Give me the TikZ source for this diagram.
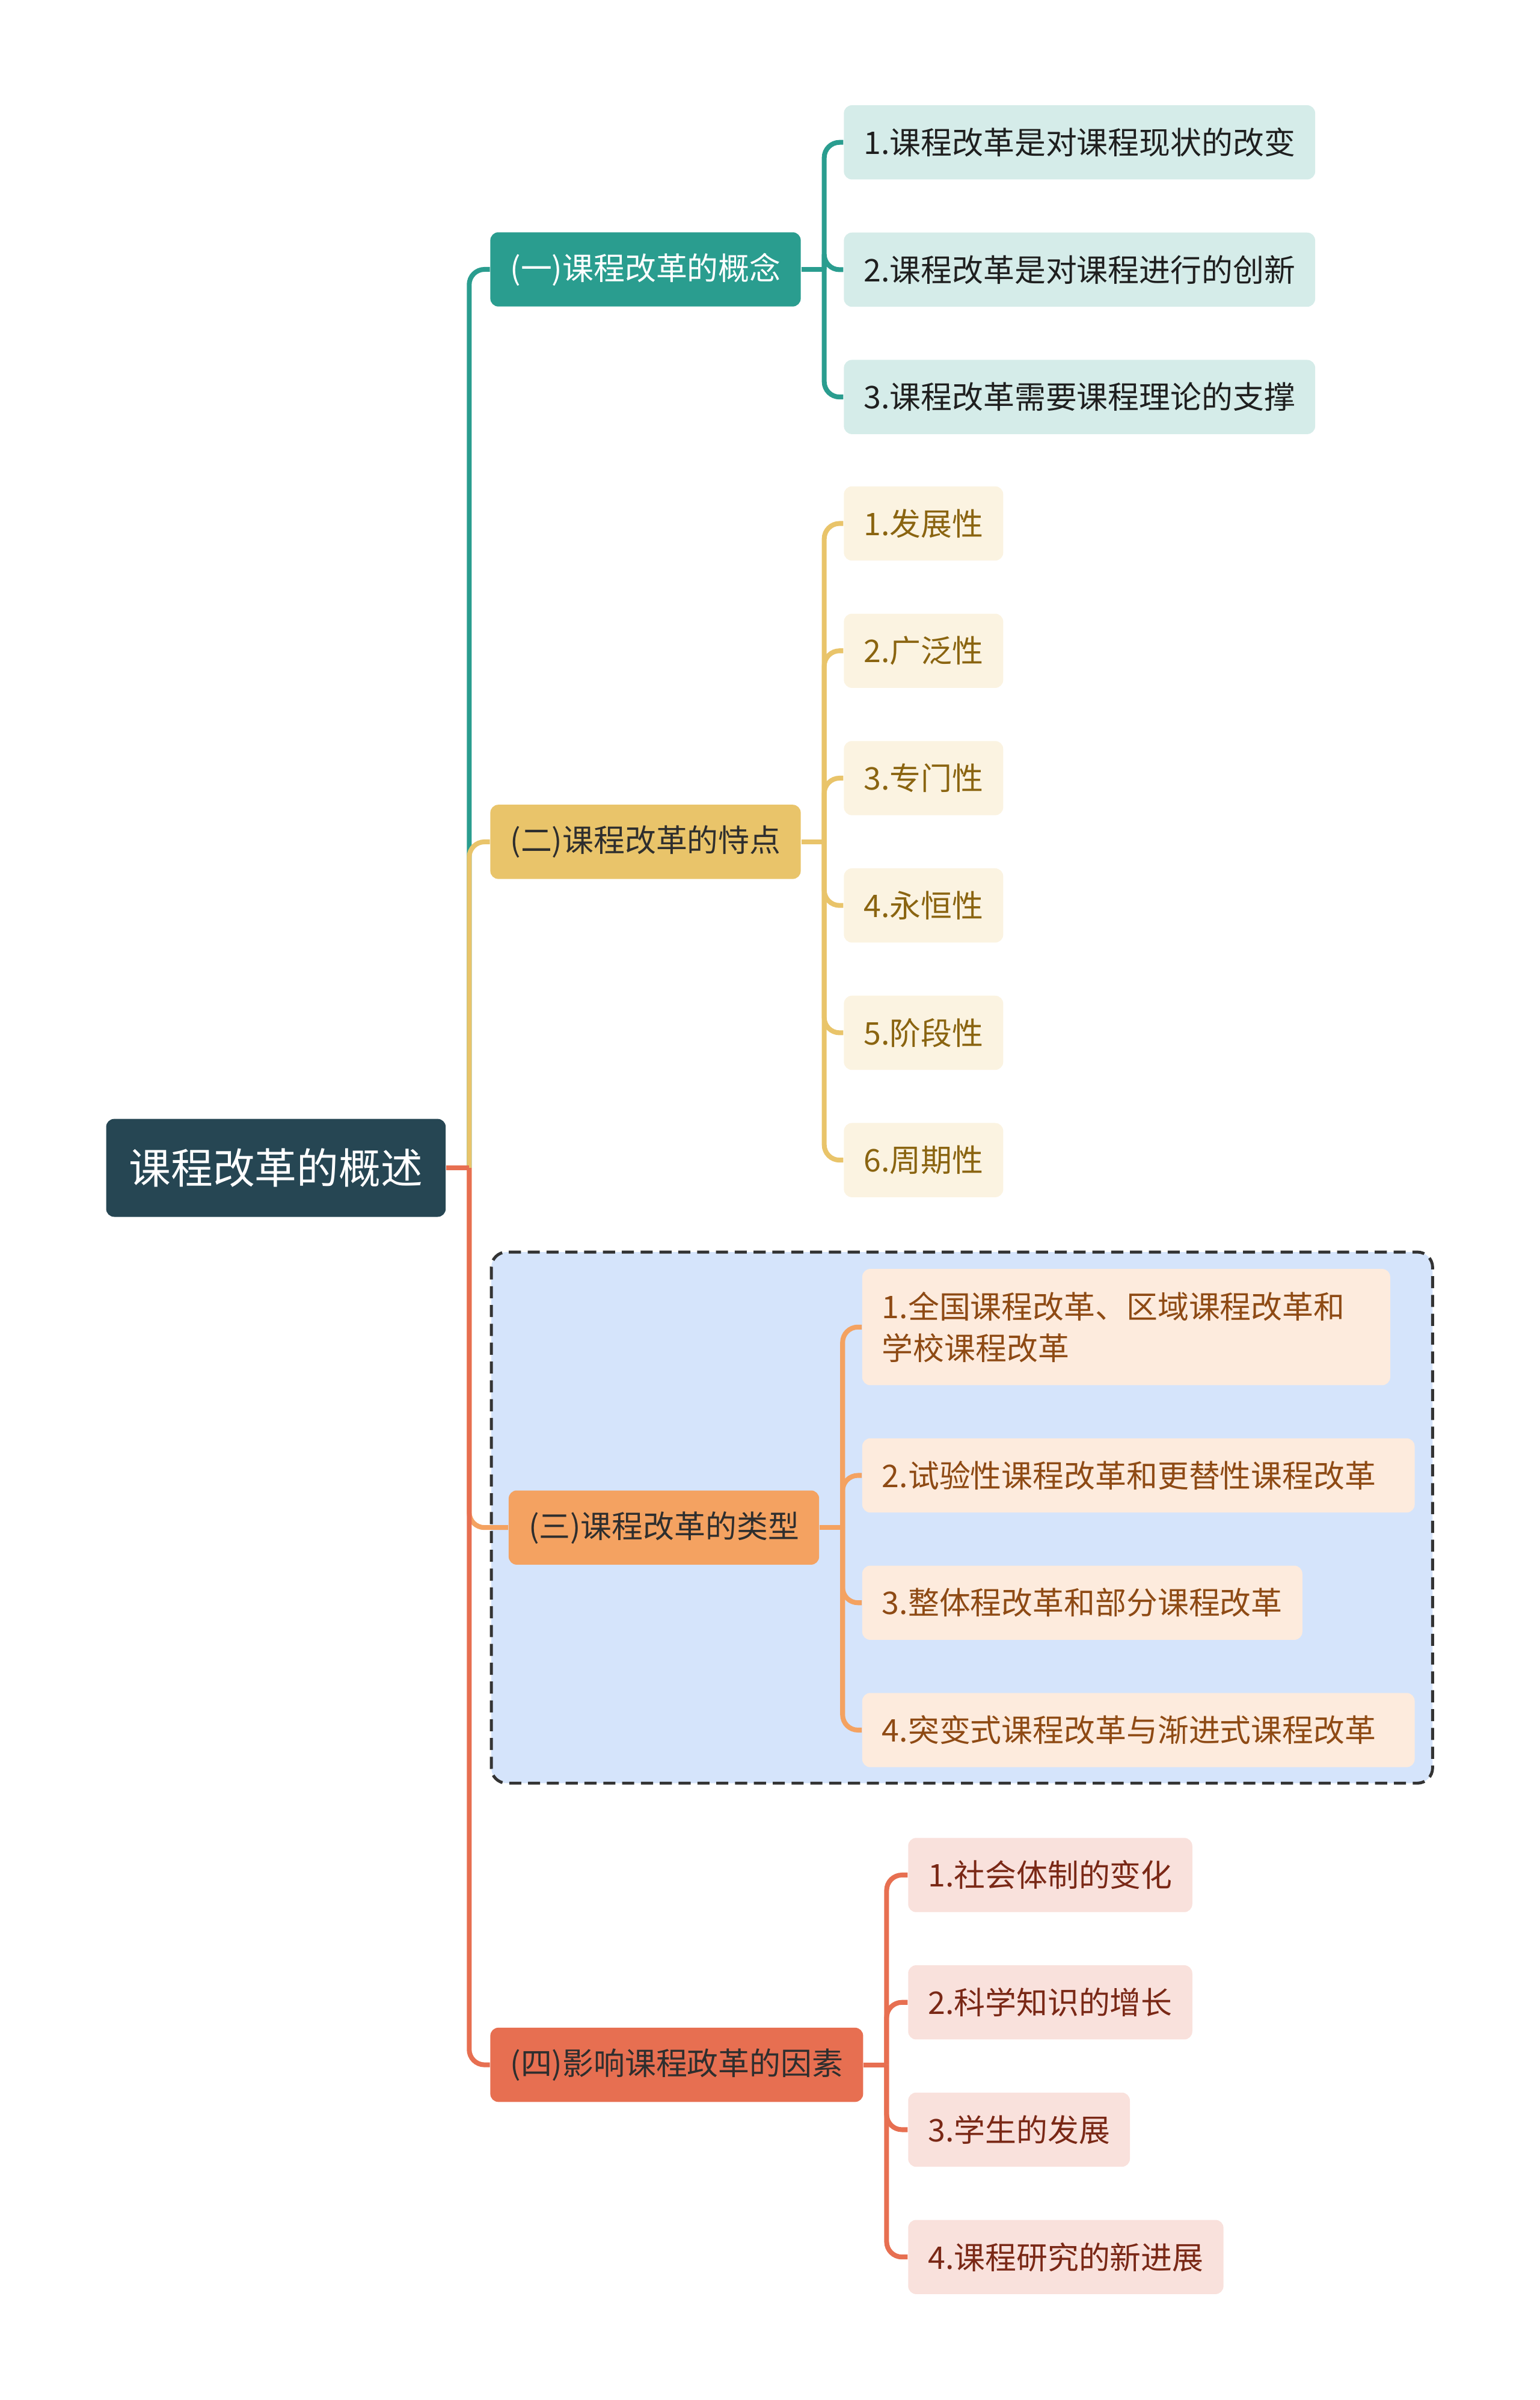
\documentclass[tikz,border=0pt]{standalone}
\usepackage{fontspec}
\setmainfont{Noto Sans CJK SC}
\usepackage{tikz}
\usetikzlibrary{positioning}
\definecolor{rootblue}{HTML}{264653}
\definecolor{tealmain}{HTML}{2A9D8F}
\definecolor{teallight}{HTML}{D5ECE9}
\definecolor{sandmain}{HTML}{E9C46A}
\definecolor{sandlight}{HTML}{FBF3E1}
\definecolor{sandtext}{HTML}{8A6410}
\definecolor{peachmain}{HTML}{F4A261}
\definecolor{peachlight}{HTML}{FDEBDD}
\definecolor{peachtext}{HTML}{8E4A14}
\definecolor{brickmain}{HTML}{E76F51}
\definecolor{bricklight}{HTML}{F9E1DC}
\definecolor{bricktext}{HTML}{7A2816}
\definecolor{groupblue}{HTML}{D5E4FB}
\definecolor{cattext}{HTML}{2E2E2E}

\begin{document}
\begin{tikzpicture}[x=0.02cm,y=-0.02cm,
  rt/.style={fill=rootblue,text=white,rounded corners=3pt,
             font=\fontsize{15.6}{18}\selectfont,inner xsep=0.3cm,minimum height=1.28cm},
  cat/.style={rounded corners=3pt,font=\fontsize{11.6}{15.4}\selectfont,
              inner xsep=0.26cm,minimum height=0.97cm,anchor=west},
  lf/.style={rounded corners=3pt,font=\fontsize{11.6}{15.4}\selectfont,
             inner xsep=0.26cm,minimum height=0.97cm,anchor=west},
  ln/.style={line width=1.8pt,rounded corners=0.2cm}
]
\useasboundingbox (0,0) rectangle (1006,1568);

% group frame behind the third branch
\draw[fill=groupblue,draw=black!80,line width=1.1pt,dash pattern=on 4.5pt off 2.5pt,
      rounded corners=0.2cm] (321,818) rectangle (936,1165);

\node[rt,anchor=west] (root) at (69,763) {课程改革的概述};

\node[cat,fill=tealmain,text=white] (c1) at (320,176) {(一)课程改革的概念};
\node[cat,fill=sandmain,text=cattext] (c2) at (320,550) {(二)课程改革的恃点};
\node[cat,fill=peachmain,text=cattext] (c3) at (332,998) {(三)课程改革的类型};
\node[cat,fill=brickmain,text=cattext] (c4) at (320,1349) {(四)影响课程政革的因素};

% leaves of (一)
\node[lf,fill=teallight,text=black!88] (a1) at (551,93) {1.课程改革是对课程现状的改变};
\node[lf,fill=teallight,text=black!88,below=0.68cm of a1.south west,anchor=north west] (a2) {2.课程改革是对课程进行的创新};
\node[lf,fill=teallight,text=black!88,below=0.68cm of a2.south west,anchor=north west] (a3) {3.课程改革需要课程理论的支撑};

% leaves of (二)
\node[lf,fill=sandlight,text=sandtext] (b1) at (551,342) {1.发展性};
\node[lf,fill=sandlight,text=sandtext,below=0.68cm of b1.south west,anchor=north west] (b2) {2.广泛性};
\node[lf,fill=sandlight,text=sandtext,below=0.68cm of b2.south west,anchor=north west] (b3) {3.专门性};
\node[lf,fill=sandlight,text=sandtext,below=0.68cm of b3.south west,anchor=north west] (b4) {4.永恒性};
\node[lf,fill=sandlight,text=sandtext,below=0.68cm of b4.south west,anchor=north west] (b5) {5.阶段性};
\node[lf,fill=sandlight,text=sandtext,below=0.68cm of b5.south west,anchor=north west] (b6) {6.周期性};

% leaves of (三)
\node[lf,fill=peachlight,text=peachtext,minimum height=1.52cm,text width=6.38cm,align=left] (t1) at (563,867) {1.全国课程改革、区域课程改革和\\学校课程改革};
\node[lf,fill=peachlight,text=peachtext,text width=6.7cm,align=left,below=0.68cm of t1.south west,anchor=north west] (t2) {2.试验性课程改革和更替性课程改革};
\node[lf,fill=peachlight,text=peachtext,below=0.68cm of t2.south west,anchor=north west] (t3) {3.整体程改革和部分课程改革};
\node[lf,fill=peachlight,text=peachtext,text width=6.7cm,align=left,below=0.68cm of t3.south west,anchor=north west] (t4) {4.突变式课程改革与渐进式课程改革};

% leaves of (四)
\node[lf,fill=bricklight,text=bricktext] (f1) at (593,1225) {1.社会体制的变化};
\node[lf,fill=bricklight,text=bricktext,below=0.68cm of f1.south west,anchor=north west] (f2) {2.科学知识的增长};
\node[lf,fill=bricklight,text=bricktext,below=0.68cm of f2.south west,anchor=north west] (f3) {3.学生的发展};
\node[lf,fill=bricklight,text=bricktext,below=0.68cm of f3.south west,anchor=north west] (f4) {4.课程研究的新进展};

\coordinate (kr) at ([xshift=0.3cm]root.east);
\coordinate (ka) at ([xshift=0.3cm]c1.east);
\coordinate (kb) at ([xshift=0.3cm]c2.east);
\coordinate (kc) at ([xshift=0.3cm]c3.east);
\coordinate (kd) at ([xshift=0.3cm]c4.east);

\draw[ln,tealmain] (kr) |- (c1.west);
\draw[ln,sandmain] (kr) |- (c2.west);
\draw[ln,peachmain] (kr) |- (c3.west);
\draw[ln,brickmain] (kr) |- (c4.west);
\draw[ln,brickmain] (root.east) -- (kr);

\draw[ln,tealmain] (c1.east) -- (ka);
\draw[ln,tealmain] (ka) |- (a1.west);
\draw[ln,tealmain] (ka) |- (a2.west);
\draw[ln,tealmain] (ka) |- (a3.west);

\draw[ln,sandmain] (c2.east) -- (kb);
\draw[ln,sandmain] (kb) |- (b1.west);
\draw[ln,sandmain] (kb) |- (b2.west);
\draw[ln,sandmain] (kb) |- (b3.west);
\draw[ln,sandmain] (kb) |- (b4.west);
\draw[ln,sandmain] (kb) |- (b5.west);
\draw[ln,sandmain] (kb) |- (b6.west);

\draw[ln,peachmain] (c3.east) -- (kc);
\draw[ln,peachmain] (kc) |- (t1.west);
\draw[ln,peachmain] (kc) |- (t2.west);
\draw[ln,peachmain] (kc) |- (t3.west);
\draw[ln,peachmain] (kc) |- (t4.west);

\draw[ln,brickmain] (c4.east) -- (kd);
\draw[ln,brickmain] (kd) |- (f1.west);
\draw[ln,brickmain] (kd) |- (f2.west);
\draw[ln,brickmain] (kd) |- (f3.west);
\draw[ln,brickmain] (kd) |- (f4.west);
\end{tikzpicture}
\end{document}
